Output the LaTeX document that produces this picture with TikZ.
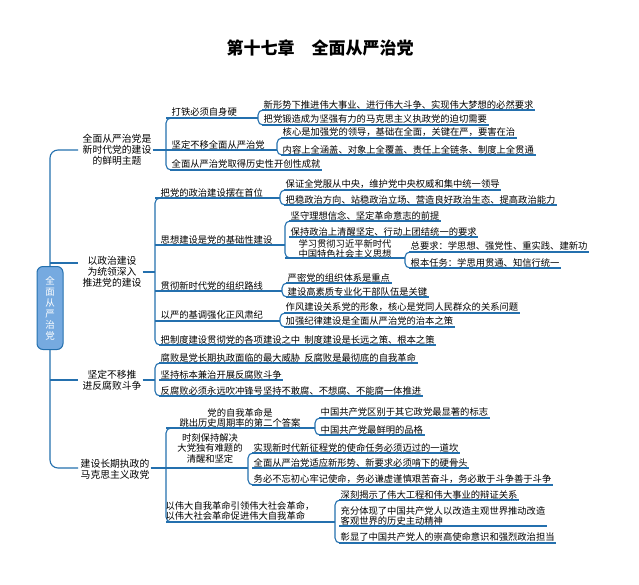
\documentclass[tikz,border=0pt]{standalone}
\usepackage{fontspec}
\setmainfont{Noto Sans CJK SC}
\definecolor{bl}{HTML}{2470AE}
\begin{document}
\begin{tikzpicture}[x=1pt,y=-1pt,
 ln/.style={draw=bl,line width=1.1pt},
 br/.style={ln,rounded corners=5pt},
 lf/.style={anchor=south west,inner xsep=1.5pt,inner ysep=1pt,font=\fontsize{9.3}{10}\selectfont},
 mid/.style={align=center,inner sep=1pt,font=\fontsize{9.3}{10.5}\selectfont},
 l1/.style={align=center,inner sep=1pt,font=\fontsize{9.8}{11}\selectfont}]
\useasboundingbox (0,0) rectangle (639,584);
\newcommand\lf[4]{\node[lf] (#1) at (#2,#3) {#4}; \draw[ln] (#1.south west) -- (#1.south east);}
\newcommand\brk[3]{\draw[br] (#1+8,#2) -- (#1,#2) -- (#1,#3) -- (#1+8,#3);}
\node[font=\fontsize{17}{20}\selectfont\bfseries] (title) at (320,48) {第十七章\quad 全面从严治党};
% trunk
\draw[ln,rounded corners=8pt] (78,150) -- (50,150) -- (50,468) -- (78,468);
\draw[ln] (50,263) -- (78,263);
\draw[ln] (50,380) -- (78,380);
\node[draw=bl,line width=1pt,fill=cyan!60!blue!55,rounded corners=6pt,minimum width=26pt,minimum height=83pt,text=white,align=center,font=\fontsize{9.5}{11}\selectfont] (root) at (50,308) {全\\面\\从\\严\\治\\党};
% L1a
\node[l1] (a) at (117,150) {全面从严治党是\\新时代党的建设\\的鲜明主题};
\draw[ln] (a.east) -- (166,150);
\brk{166}{118}{170}
\node[lf] (a1) at (170,118) {打铁必须自身硬}; \draw[ln] (166,118) -- (258,118);
\brk{258}{110}{125}
\lf{a11}{262}{110}{新形势下推进伟大事业、进行伟大斗争、实现伟大梦想的必然要求}
\lf{a12}{262}{125}{把党锻造成为坚强有力的马克思主义执政党的迫切需要}
\node[lf] (a2) at (170,150) {坚定不移全面从严治党}; \draw[ln] (166,150) -- (277,150);
\brk{277}{138}{155}
\lf{a21}{281}{138}{核心是加强党的领导，基础在全面，关键在严，要害在治}
\lf{a22}{281}{155}{内容上全涵盖、对象上全覆盖、责任上全链条、制度上全贯通}
\lf{a3}{170}{170}{全面从严治党取得历史性开创性成就}
% L1b
\node[l1] (b) at (112,272) {以政治建设\\为统领深入\\推进党的建设};
\draw[ln] (b.east |- 0,272) -- (155,272);
\brk{155}{198}{345}
\node[lf] (b1) at (159,198) {把党的政治建设摆在首位}; \draw[ln] (155,198) -- (280,198);
\brk{280}{190}{205}
\lf{b11}{284}{190}{保证全党服从中央，维护党中央权威和集中统一领导}
\lf{b12}{284}{205}{把稳政治方向、站稳政治立场、营造良好政治生态、提高政治能力}
\node[lf] (b2) at (159,245) {思想建设是党的基础性建设}; \draw[ln] (155,245) -- (285,245);
\brk{285}{221}{258}
\lf{b21}{289}{221}{坚守理想信念、坚定革命意志的前提}
\lf{b22}{289}{237}{保持政治上清醒坚定、行动上团结统一的要求}
\node[mid] (b23) at (345,249) {学习贯彻习近平新时代\\中国特色社会主义思想}; \draw[ln] (285,258) -- (405,258);
\brk{405}{252}{268}
\lf{b231}{409}{252}{总要求：学思想、强党性、重实践、建新功}
\lf{b232}{409}{268}{根本任务：学思用贯通、知信行统一}
\node[lf] (b3) at (159,291) {贯彻新时代党的组织路线}; \draw[ln] (155,291) -- (282,291);
\brk{282}{283}{297}
\lf{b31}{286}{283}{严密党的组织体系是重点}
\lf{b32}{286}{297}{建设高素质专业化干部队伍是关键}
\node[lf] (b4) at (159,321) {以严的基调强化正风肃纪}; \draw[ln] (155,321) -- (280,321);
\brk{280}{313}{327}
\lf{b41}{284}{313}{作风建设关系党的形象，核心是党同人民群众的关系问题}
\lf{b42}{284}{327}{加强纪律建设是全面从严治党的治本之策}
\lf{b5}{159}{345}{把制度建设贯彻党的各项建设之中\ \ 制度建设是长远之策、根本之策}
% L1c
\node[l1] (c) at (112,380) {坚定不移推\\进反腐败斗争};
\draw[ln] (c.east |- 0,380) -- (155,380);
\brk{155}{363}{396}
\lf{c1}{159}{363}{腐败是党长期执政面临的最大威胁\ \ 反腐败是最彻底的自我革命}
\lf{c2}{159}{380}{坚持标本兼治开展反腐败斗争}
\lf{c3}{159}{396}{反腐败必须永远吹冲锋号坚持不敢腐、不想腐、不能腐一体推进}
% L1d
\node[l1] (d) at (115,469) {建设长期执政的\\马克思主义政党};
\draw[ln] (d.east |- 0,468) -- (166,468);
\brk{166}{428}{522}
\node[mid] (d1) at (240,418) {党的自我革命是\\跳出历史周期率的第二个答案}; \draw[ln] (166,428) -- (315,428);
\brk{315}{418}{435}
\lf{d11}{319}{418}{中国共产党区别于其它政党最显著的标志}
\lf{d12}{319}{435}{中国共产党最鲜明的品格}
\node[mid] (d2) at (210,448) {时刻保持解决\\大党独有难题的\\清醒和坚定}; \draw[ln] (166,468) -- (248,468);
\brk{248}{453}{485}
\lf{d21}{252}{453}{实现新时代新征程党的使命任务必须迈过的一道坎}
\lf{d22}{252}{468}{全面从严治党适应新形势、新要求必须啃下的硬骨头}
\lf{d23}{252}{485}{务必不忘初心牢记使命，务必谦虚谨慎艰苦奋斗，务必敢于斗争善于斗争}
\node[mid,align=left] (d3) at (240,511) {以伟大自我革命引领伟大社会革命，\\以伟大社会革命促进伟大自我革命}; \draw[ln] (166,522) -- (335,522);
\brk{335}{500}{543}
\lf{d31}{339}{500}{深刻揭示了伟大工程和伟大事业的辩证关系}
\node[lf,align=left] (d32) at (339,526) {充分体现了中国共产党人以改造主观世界推动改造\\客观世界的历史主动精神}; \draw[ln] (d32.south west) -- (d32.south east);
\lf{d33}{339}{543}{彰显了中国共产党人的崇高使命意识和强烈政治担当}
\end{tikzpicture}
\end{document}
